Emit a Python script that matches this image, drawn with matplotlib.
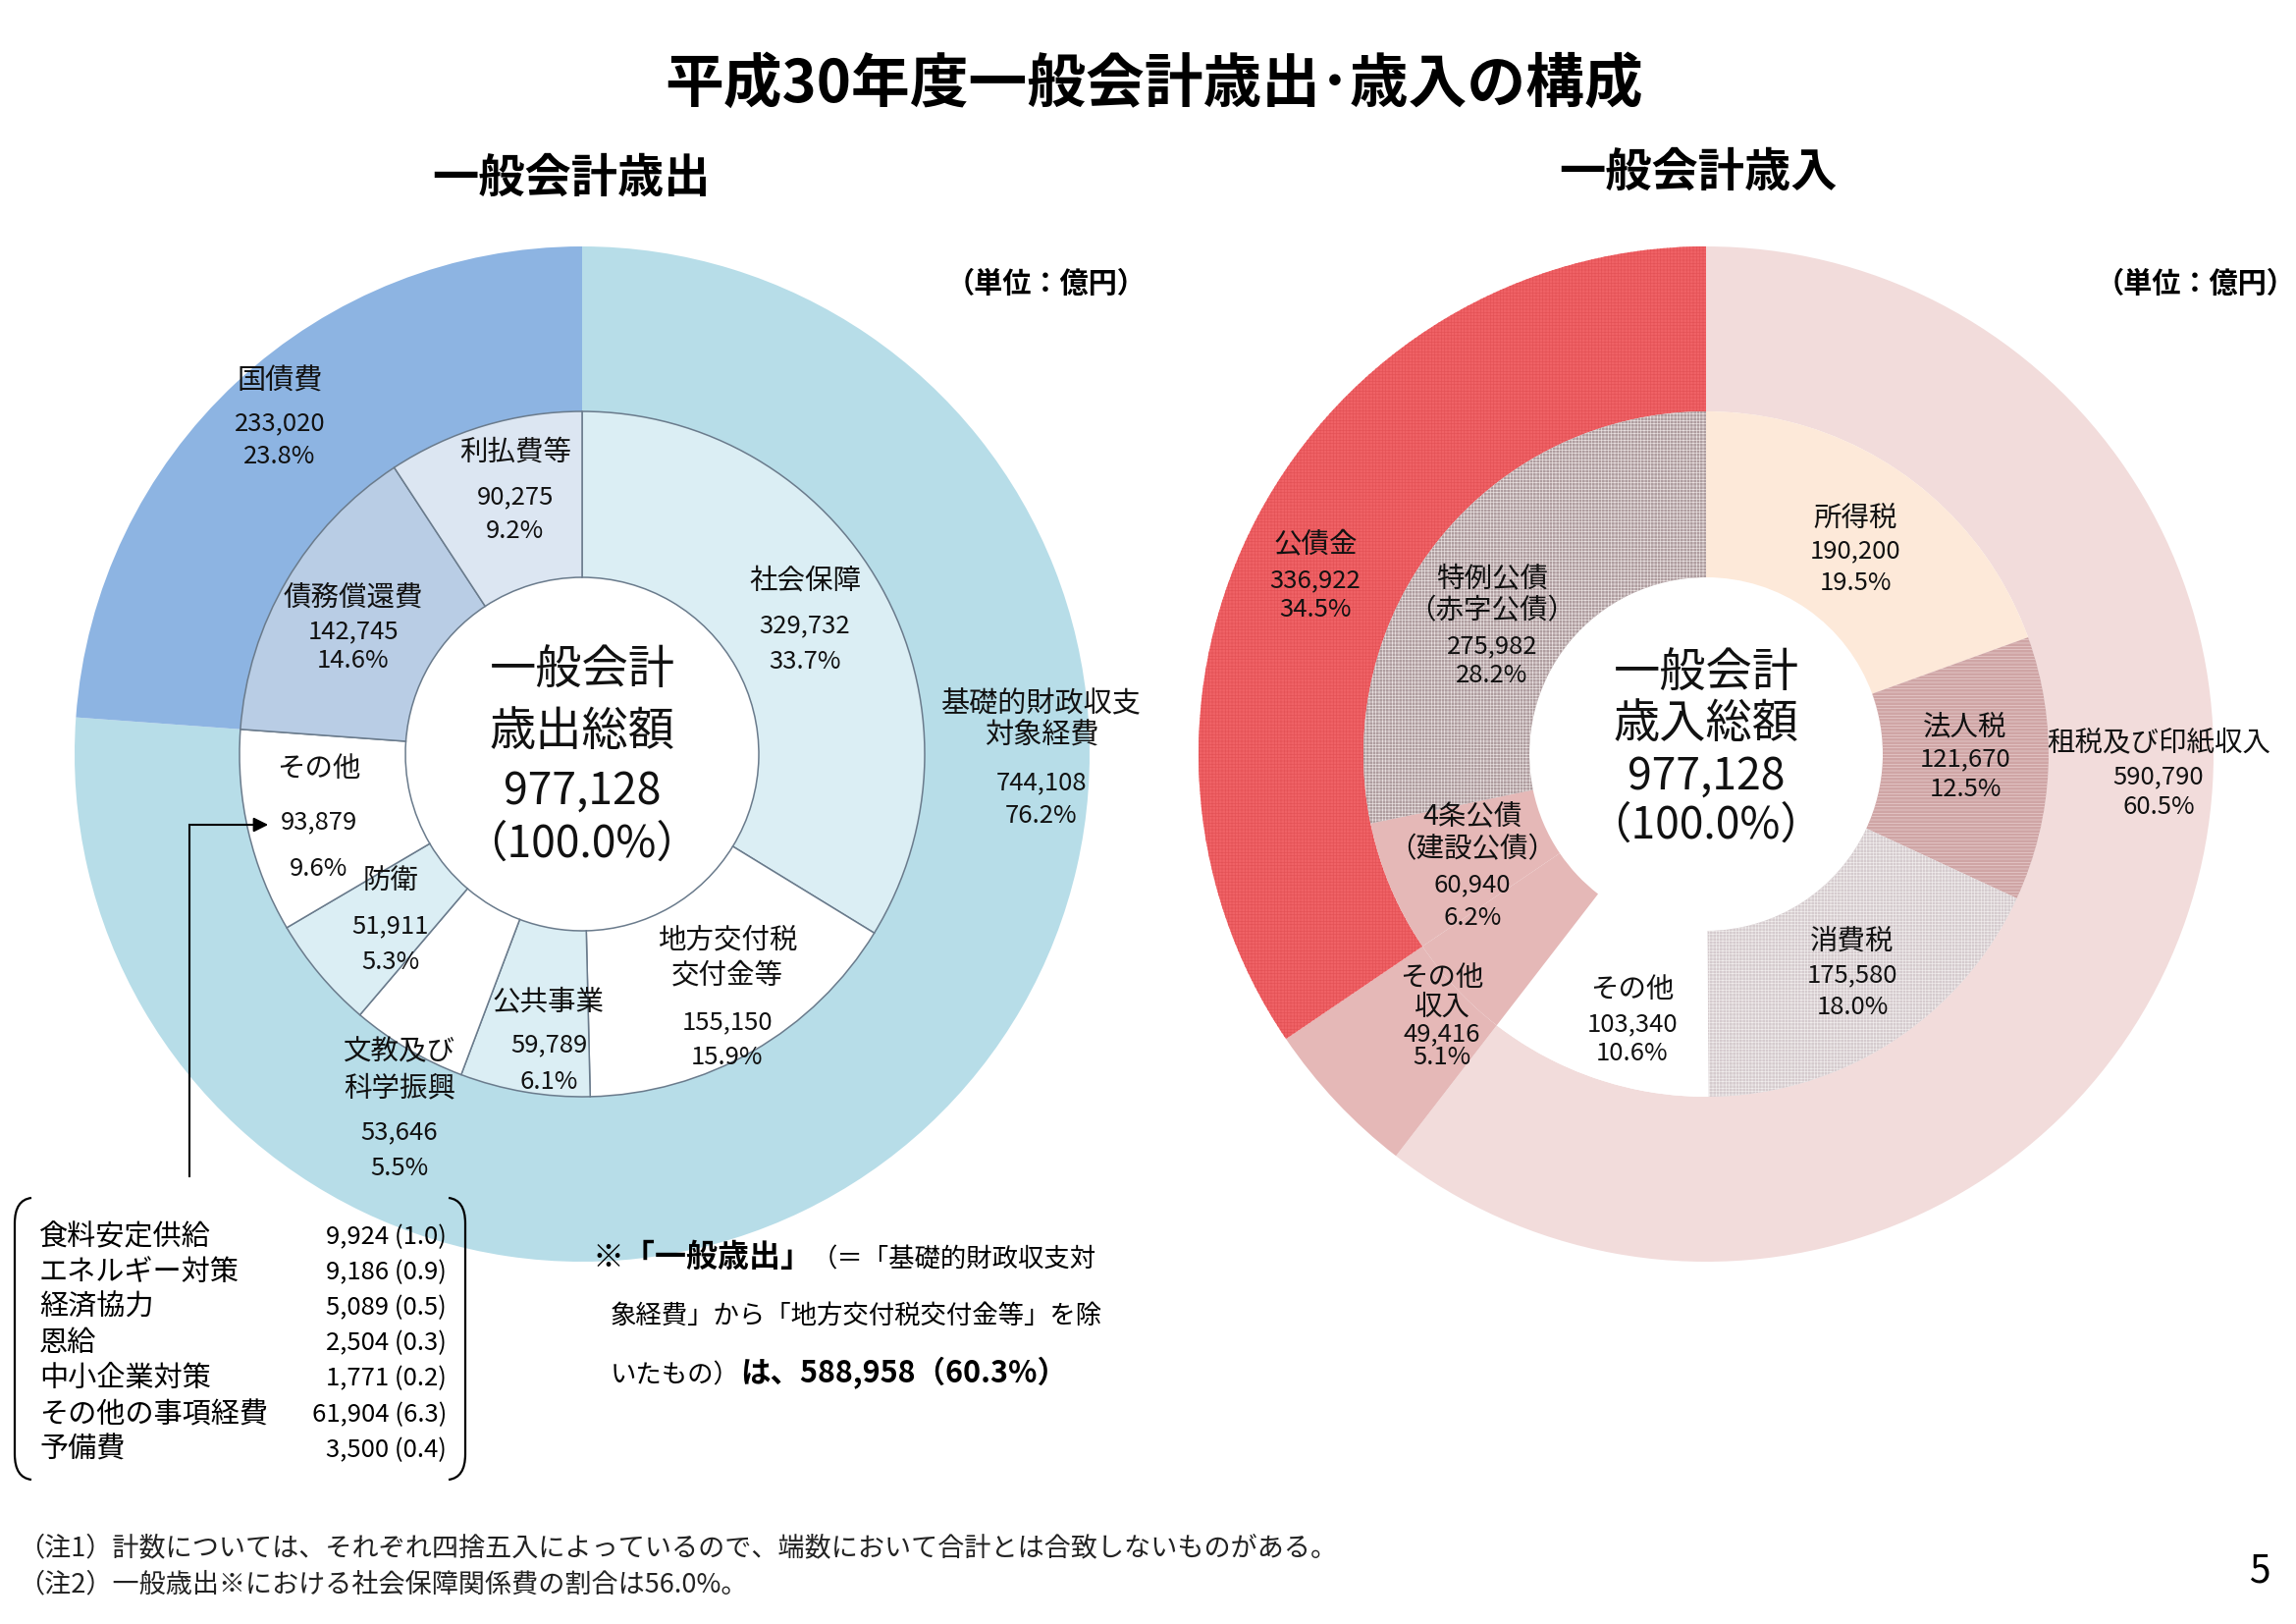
import matplotlib
matplotlib.use("Agg")  # headless
import matplotlib.pyplot as plt
from matplotlib.path import Path
from matplotlib.patches import PathPatch

W, H = 2339, 1654
plt.rcParams["font.family"] = ["Noto Sans CJK JP", "DejaVu Sans"]
plt.rcParams["hatch.linewidth"] = 0.5

# ---- data: 歳出 (expenditure) ----
exp_outer_labels = ["基礎的財政収支\n対象経費", "国債費"]
exp_outer_values = [744108, 233020]
exp_outer_pct = ["76.2%", "23.8%"]

exp_inner_labels = ["社会保障", "地方交付税\n交付金等", "公共事業", "文教及び\n科学振興",
                    "防衛", "その他", "債務償還費", "利払費等"]
exp_inner_values = [329732, 155150, 59789, 53646, 51911, 93879, 142745, 90275]
exp_inner_pct = ["33.7%", "15.9%", "6.1%", "5.5%", "5.3%", "9.6%", "14.6%", "9.2%"]

# ---- data: 歳入 (revenue) ----
rev_outer_labels = ["租税及び印紙収入", "その他\n収入", "公債金"]
rev_outer_values = [590790, 49416, 336922]
rev_outer_pct = ["60.5%", "5.1%", "34.5%"]

rev_inner_labels = ["所得税", "法人税", "消費税", "その他", "その他収入",
                    "4条公債\n（建設公債）", "特例公債\n（赤字公債）"]
rev_inner_values = [190200, 121670, 175580, 103340, 49416, 60940, 275982]
rev_inner_pct = ["19.5%", "12.5%", "18.0%", "10.6%", "5.1%", "6.2%", "28.2%"]

total_value = 977128

# breakdown of 歳出「その他」
other_items = ["食料安定供給", "エネルギー対策", "経済協力", "恩給",
               "中小企業対策", "その他の事項経費", "予備費"]
other_values = [9924, 9186, 5089, 2504, 1771, 61904, 3500]
other_pct = [1.0, 0.9, 0.5, 0.3, 0.2, 6.3, 0.4]

# ---- styles ----
exp_outer_colors = ["#B7DDE8", "#8DB4E2"]
exp_inner_colors = ["#DBEEF4", "#FFFFFF", "#DBEEF4", "#FFFFFF",
                    "#DBEEF4", "#FFFFFF", "#B9CDE5", "#DCE6F2"]
rev_outer_colors = ["#F2DCDB", "#E5B8B7", "#F06266"]
rev_outer_hatch = [("", None), ("", None), ("+++++", "#E45256")]
rev_inner_colors = ["#FDE9D9", "#CFA5A5", "#D5CBCE", "#FFFFFF",
                    "#E5B8B7", "#E5B8B7", "#AE9C9E"]
rev_inner_hatch = [("", None), ("-----", "#E8CFCF"), ("+++++", "#F0ECEC"), ("", None),
                   ("", None), ("", None), ("+++++", "#E8E0E0")]

R_OUT, R_MID, R_HOLE = 517, 349, 180
EXP_C = (593, 768)
REV_C = (1738, 768)

# label layout (x, [y per line]) in image pixels, y from top
exp_outer_pos = [(1061, [717, 750, 797, 831]), (285, [389, 431, 465])]
exp_inner_pos = [(820, [592, 637, 674]), (741, [958, 993, 1041, 1077]),
                 (559, [1020, 1064, 1102]), (407, [1071, 1108, 1153, 1190]),
                 (398, [897, 943, 980]), (325, [783, 837, 885]),
                 (360, [609, 643, 673]), (525, [461, 506, 541])]
rev_outer_pos = [(2199, [756, 791, 822]), (1469, [996, 1026, 1053, 1077]),
                 (1340, [555, 591, 621])]
rev_inner_pos = [(1890, [528, 561, 594]), (2002, [740, 773, 804]),
                 (1887, [959, 993, 1026]), (1663, [1008, 1043, 1073]), None,
                 (1500, [832, 865, 901, 935]), (1520, [589, 622, 658, 688])]


def Y(y):
    return H - y


def donut(ax, values, center, r_out, width, colors, hatches=None, edge=None):
    wedges, _ = ax.pie(values, radius=r_out, center=(center[0], Y(center[1])),
                       startangle=90, counterclock=False, colors=colors,
                       wedgeprops=dict(width=width, linewidth=0))
    for i, w in enumerate(wedges):
        if edge is not None:
            w.set_edgecolor(edge)
            w.set_linewidth(1.1)
        elif hatches is not None and hatches[i][0]:
            w.set_hatch(hatches[i][0])
            w.set_edgecolor(hatches[i][1])
            w.set_linewidth(0)
    return wedges


def seg_label(ax, pos, name, value, pct, name_size=20.5, num_size=18.5):
    if pos is None:
        return
    x, ys = pos
    lines = name.split("\n")
    texts = [(l, name_size) for l in lines] + [(f"{value:,}", num_size), (pct, num_size)]
    for (s, fs), y in zip(texts, ys):
        ax.text(x, Y(y), s, ha="center", va="center", fontsize=fs, color="#111111")


fig = plt.figure(figsize=(W / 100, H / 100), dpi=100)
ax = fig.add_axes([0, 0, 1, 1])

donut(ax, exp_outer_values, EXP_C, R_OUT, R_OUT - R_MID, exp_outer_colors)
donut(ax, exp_inner_values, EXP_C, R_MID, R_MID - R_HOLE, exp_inner_colors, edge="#6A7B8C")
donut(ax, rev_outer_values, REV_C, R_OUT, R_OUT - R_MID, rev_outer_colors, rev_outer_hatch)
donut(ax, rev_inner_values, REV_C, R_MID, R_MID - R_HOLE, rev_inner_colors, rev_inner_hatch)

ax.set_xlim(0, W)
ax.set_ylim(0, H)
ax.set_aspect("auto")
ax.axis("off")

for pos, n, v, p in zip(exp_outer_pos, exp_outer_labels, exp_outer_values, exp_outer_pct):
    seg_label(ax, pos, n, v, p, name_size=21)
for pos, n, v, p in zip(exp_inner_pos, exp_inner_labels, exp_inner_values, exp_inner_pct):
    seg_label(ax, pos, n, v, p)
for pos, n, v, p in zip(rev_outer_pos, rev_outer_labels, rev_outer_values, rev_outer_pct):
    seg_label(ax, pos, n, v, p)
for pos, n, v, p in zip(rev_inner_pos, rev_inner_labels, rev_inner_values, rev_inner_pct):
    seg_label(ax, pos, n, v, p)

# centre texts
for cx, ys, kind in [(593, [683, 746, 806, 860], "歳出総額"), (1738, [686, 738, 791, 841], "歳入総額")]:
    for s, y, fs in zip(["一般会計", kind, f"{total_value:,}", "（100.0%）"], ys, [34, 34, 32, 32]):
        ax.text(cx, Y(y), s, ha="center", va="center", fontsize=fs, color="#111111")

# titles
ax.text(1176, Y(87), "平成30年度一般会計歳出･歳入の構成", ha="center", va="center",
        fontsize=43, fontweight="bold")
ax.text(582, Y(182), "一般会計歳出", ha="center", va="center", fontsize=34, fontweight="bold")
ax.text(1730, Y(176), "一般会計歳入", ha="center", va="center", fontsize=34, fontweight="bold")
ax.text(1066, Y(289), "（単位：億円）", ha="center", va="center", fontsize=21, fontweight="bold")
ax.text(2237, Y(289), "（単位：億円）", ha="center", va="center", fontsize=21, fontweight="bold")

# arrow to その他
ax.plot([193, 193], [Y(1198), Y(840)], color="black", lw=1.5)
ax.annotate("", xy=(276, Y(840)), xytext=(192, Y(840)),
            arrowprops=dict(arrowstyle="-|>", color="black", lw=1.5, mutation_scale=22))

# breakdown box with round brackets
for x0, x1 in [(32, 15), (457, 474)]:
    verts = [(x0, Y(1220)), (x1, Y(1222)), (x1, Y(1246)), (x1, Y(1481)),
             (x1, Y(1505)), (x0, Y(1507))]
    codes = [Path.MOVETO, Path.CURVE3, Path.CURVE3, Path.LINETO, Path.CURVE3, Path.CURVE3]
    ax.add_patch(PathPatch(Path(verts, codes), fill=False, lw=1.6, color="black"))

row_y = [1260, 1296, 1332, 1368, 1404, 1441, 1477]
for name, v, p, y in zip(other_items, other_values, other_pct, row_y):
    ax.text(40, Y(y), name, ha="left", va="center", fontsize=21)
    ax.text(455, Y(y), f"{v:,} ({p:.1f})", ha="right", va="center", fontsize=18.5)

# 一般歳出 note, mixed weights on one line
renderer = fig.canvas.get_renderer()


def run_line(x, y, parts):
    for s, fs, fw in parts:
        t = ax.text(x, Y(y), s, ha="left", va="baseline", fontsize=fs, fontweight=fw)
        x += t.get_window_extent(renderer=renderer).width


run_line(603, 1290, [("※「一般歳出」", 23, "bold"), ("（＝「基礎的財政収支対", 19, "normal")])
run_line(622, 1348, [("象経費」から「地方交付税交付金等」を除", 19, "normal")])
run_line(622, 1408, [("いたもの）", 19, "normal"), ("は、588,958（60.3%）", 22, "bold")])

# footnotes
ax.text(18, Y(1577), "（注1）計数については、それぞれ四捨五入によっているので、端数において合計とは合致しないものがある。",
        ha="left", va="center", fontsize=19.5, color="#222222")
ax.text(18, Y(1614), "（注2）一般歳出※における社会保障関係費の割合は56.0%。",
        ha="left", va="center", fontsize=19.5, color="#222222")
ax.text(2302, Y(1600), "5", ha="center", va="center", fontsize=28)

fig.savefig("out.png", dpi=100)
